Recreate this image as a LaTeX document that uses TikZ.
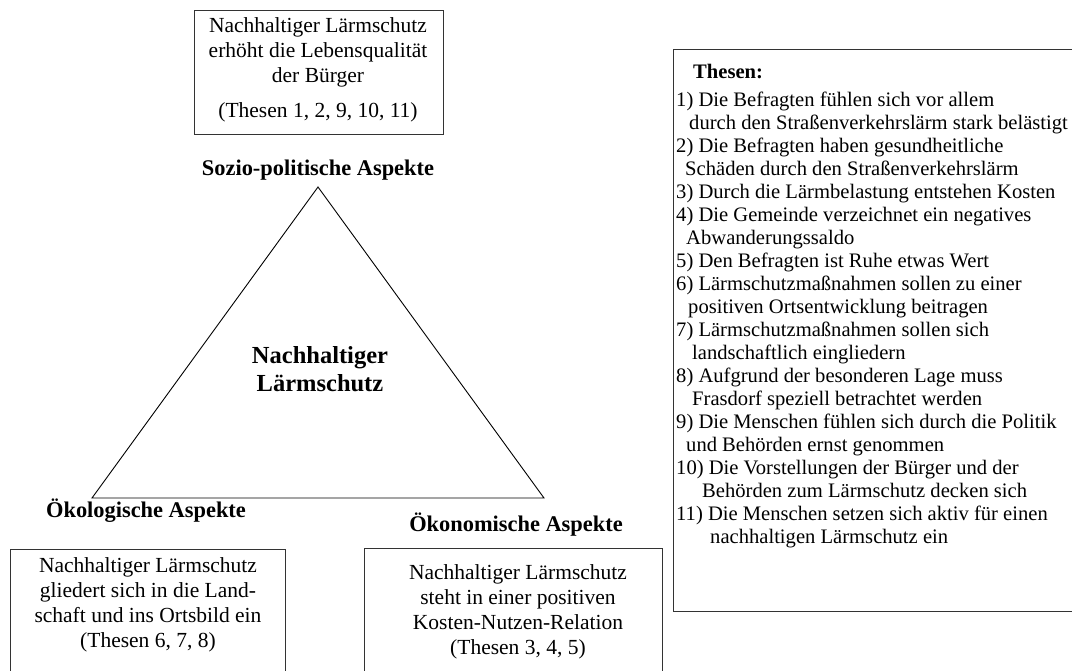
\documentclass[tikz,border=0pt]{standalone}
\usepackage{fontspec}
\setmainfont{Liberation Serif}
\begin{document}
\begin{tikzpicture}[x=1pt,y=-1pt,
  boxline/.style={draw=black!80, line width=1.1pt, inner sep=0pt},
  boxtext/.style={anchor=north, align=center, inner sep=0pt, font=\fontsize{21.5}{25}\selectfont},
  aspect/.style={font=\bfseries\fontsize{22.4}{26}\selectfont, inner sep=0pt},
  tri/.style={draw=black, line width=0.9pt, line join=miter}
]
\useasboundingbox (0,0) rectangle (1072,671);
\clip (0,0) rectangle (1072,671);

% top box
\node[boxline, anchor=north west, minimum width=249pt, minimum height=124pt] (topbox) at (193.5,10) {};
\node[boxtext] (toptext) at (318,17) {Nachhaltiger Lärmschutz\\erhöht die Lebensqualität\\der Bürger\\[10pt](Thesen 1, 2, 9, 10, 11)};

% triangle
\coordinate (apex) at (318,187);
\coordinate (bl) at (92,498);
\coordinate (br) at (544,498);
\draw[tri] (apex) -- (bl) -- (br) -- cycle;

\node[aspect] (soz) at (318,170) {Sozio-politische Aspekte};
\node[aspect, align=center, font=\bfseries\fontsize{24.5}{28}\selectfont] (center) at (320,369) {Nachhaltiger\\Lärmschutz};
\node[aspect] (oko) at (146,511) {Ökologische Aspekte};
\node[aspect] (okn) at (516,525) {Ökonomische Aspekte};

% bottom left box
\node[boxline, anchor=north west, minimum width=275pt, minimum height=140pt] (ecobox) at (10,549) {};
\node[boxtext] (ecotext) at (148,557) {Nachhaltiger Lärmschutz\\gliedert sich in die Land-\\schaft und ins Ortsbild ein\\(Thesen 6, 7, 8)};

% bottom right box
\node[boxline, anchor=north west, minimum width=298pt, minimum height=140pt] (ecnbox) at (364,548) {};
\node[boxtext] (ecntext) at (518,564) {Nachhaltiger Lärmschutz\\steht in einer positiven\\Kosten-Nutzen-Relation\\(Thesen 3, 4, 5)};

% theses box
\node[boxline, anchor=north west, minimum width=420pt, minimum height=562pt] (thbox) at (673,49) {};
\node[anchor=north west, align=left, inner sep=0pt, font=\fontsize{20.6}{23}\selectfont] (thtext) at (676,64) {%
\hspace*{17pt}\textbf{Thesen:}\\[5pt]
1) Die Befragten fühlen sich vor allem\\
\hspace*{13pt}durch den Straßenverkehrslärm stark belästigt\\
2) Die Befragten haben gesundheitliche\\
\hspace*{9pt}Schäden durch den Straßenverkehrslärm\\
3) Durch die Lärmbelastung entstehen Kosten\\
4) Die Gemeinde verzeichnet ein negatives\\
\hspace*{10pt}Abwanderungssaldo\\
5) Den Befragten ist Ruhe etwas Wert\\
6) Lärmschutzmaßnahmen sollen zu einer\\
\hspace*{12pt}positiven Ortsentwicklung beitragen\\
7) Lärmschutzmaßnahmen sollen sich\\
\hspace*{16pt}landschaftlich eingliedern\\
8) Aufgrund der besonderen Lage muss\\
\hspace*{16pt}Frasdorf speziell betrachtet werden\\
9) Die Menschen fühlen sich durch die Politik\\
\hspace*{10pt}und Behörden ernst genommen\\
10) Die Vorstellungen der Bürger und der\\
\hspace*{26pt}Behörden zum Lärmschutz decken sich\\
11) Die Menschen setzen sich aktiv für einen\\
\hspace*{34pt}nachhaltigen Lärmschutz ein};
\end{tikzpicture}
\end{document}
